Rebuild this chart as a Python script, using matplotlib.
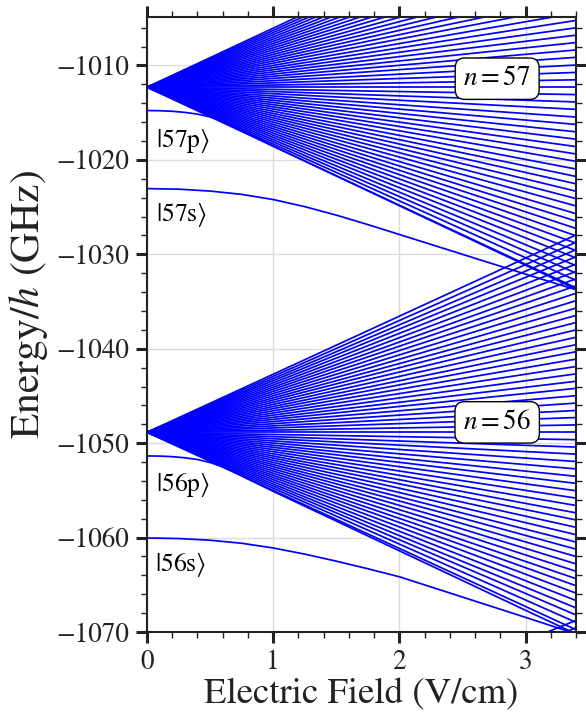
import matplotlib
matplotlib.use('Agg')
import matplotlib.pyplot as plt
import numpy as np
from matplotlib.ticker import MultipleLocator

plt.rcParams['font.family'] = 'STIXGeneral'
plt.rcParams['mathtext.fontset'] = 'stix'

# ---------------- data ----------------
field_range = [0.0, 3.4]                     # V/cm

# zero-field energies of the hydrogenic manifolds (GHz)
apex_57 = -1012.3
apex_56 = -1048.85
apex_55 = -1087.3

# linear Stark slopes of the manifold states (GHz per V/cm)
slopes_57 = [-6.25, -6.02, -5.79, -5.56, -5.32, -5.09, -4.86, -4.63, -4.40,
             -4.17, -3.94, -3.70, -3.47, -3.24, -3.01, -2.78, -2.55, -2.31,
             -2.08, -1.85, -1.62, -1.39, -1.16, -0.93, -0.69, -0.46, -0.23,
             0.00,
             0.23, 0.46, 0.69, 0.93, 1.16, 1.39, 1.62, 1.85, 2.08,
             2.31, 2.55, 2.78, 3.01, 3.24, 3.47, 3.70, 3.94, 4.17,
             4.40, 4.63, 4.86, 5.09, 5.32, 5.56, 5.79, 6.02, 6.25]
slopes_56 = [-6.15, -5.92, -5.69, -5.47, -5.24, -5.01, -4.78, -4.56, -4.33,
             -4.10, -3.87, -3.64, -3.42, -3.19, -2.96, -2.73, -2.51, -2.28,
             -2.05, -1.82, -1.59, -1.37, -1.14, -0.91, -0.68, -0.46, -0.23,
             0.00,
             0.23, 0.46, 0.68, 0.91, 1.14, 1.37, 1.59, 1.82, 2.05,
             2.28, 2.51, 2.73, 2.96, 3.19, 3.42, 3.64, 3.87, 4.10,
             4.33, 4.56, 4.78, 5.01, 5.24, 5.47, 5.69, 5.92, 6.15]
slopes_55_top = [5.45, 5.22]

# low-l states (quadratic then linear Stark shift)
field_s = [0.0, 0.25, 0.5, 0.75, 1.0, 1.25, 1.5, 1.75, 2.0, 2.5, 3.0, 3.4]
energy_57s = [-1023.04, -1023.10, -1023.30, -1023.65, -1024.20, -1024.95,
              -1025.85, -1026.85, -1027.90, -1030.00, -1032.10, -1033.75]
energy_56s = [-1060.04, -1060.10, -1060.28, -1060.60, -1061.10, -1061.75,
              -1062.50, -1063.30, -1064.15, -1066.30, -1068.45, -1070.20]

field_p = [0.0, 0.1, 0.2, 0.3, 0.4, 0.5, 0.6, 0.7, 0.8, 1.0, 1.5, 2.0,
           2.5, 3.0, 3.4]
energy_57p = [-1014.77, -1014.79, -1014.85, -1014.97, -1015.15, -1015.45,
              -1015.90, -1016.50, -1017.20, -1018.55, -1021.70, -1024.85,
              -1028.00, -1031.15, -1033.70]
energy_56p = [-1051.35, -1051.37, -1051.43, -1051.55, -1051.73, -1052.05,
              -1052.50, -1053.10, -1053.80, -1055.10, -1058.25, -1061.40,
              -1064.55, -1067.70, -1070.20]

state_labels = [r'$|57\mathrm{p}\rangle$', r'$|57\mathrm{s}\rangle$',
                r'$|56\mathrm{p}\rangle$', r'$|56\mathrm{s}\rangle$']
state_label_pos = [(0.07, -1017.9), (0.07, -1025.8),
                   (0.07, -1054.4), (0.06, -1062.9)]
manifold_labels = [r'$n=57$', r'$n=56$']
manifold_label_pos = [(2.775, -1011.4), (2.775, -1047.8)]

# ---------------- figure ----------------
fig = plt.figure(figsize=(5.86, 7.13), dpi=100)
ax = fig.add_axes([0.2509, 0.1136, 0.7321, 0.8621])

blue = '#0000ff'
lw = 1.25
F = np.array(field_range)
for apex, slopes in ((apex_57, slopes_57), (apex_56, slopes_56),
                     (apex_55, slopes_55_top)):
    for s in slopes:
        ax.plot(F, apex + s * F, color=blue, lw=lw, solid_capstyle='butt')

for fx, ey in ((field_s, energy_57s), (field_s, energy_56s),
               (field_p, energy_57p), (field_p, energy_56p)):
    ax.plot(fx, ey, color=blue, lw=lw)

for txt, (x, y) in zip(state_labels, state_label_pos):
    ax.text(x, y, txt, fontsize=18.5, ha='left', va='center')

for txt, (x, y) in zip(manifold_labels, manifold_label_pos):
    ax.text(x, y, txt, fontsize=19.5, ha='center', va='center',
            bbox=dict(boxstyle='round,pad=0.3,rounding_size=0.35',
                      fc='white', ec='black', lw=1.0))

ax.set_xlim(0, 3.4)
ax.set_ylim(-1070, -1004.9)

ax.xaxis.set_major_locator(MultipleLocator(1))
ax.xaxis.set_minor_locator(MultipleLocator(0.2))
ax.yaxis.set_major_locator(MultipleLocator(10))
ax.yaxis.set_minor_locator(MultipleLocator(2))

ax.grid(True, which='major', color='#dcdcdc', lw=1.0)
ax.set_axisbelow(True)

ax.tick_params(which='both', direction='out', top=True, right=True,
               labelsize=19.5, colors='#222222')
ax.tick_params(which='major', length=8, width=2.2, pad=5)
ax.tick_params(which='minor', length=4.5, width=1.0)
for sp in ax.spines.values():
    sp.set_linewidth(1.5)
    sp.set_color('#222222')

ax.set_xlabel('Electric Field (V/cm)', fontsize=26.5, color='#222222',
              labelpad=2)
ax.set_ylabel(r'Energy/$h$ (GHz)', fontsize=30, color='#222222')
ax.yaxis.set_label_coords(-0.277, 0.533)
ax.yaxis.label.set_verticalalignment('center')

fig.savefig('out.png', dpi=100)
